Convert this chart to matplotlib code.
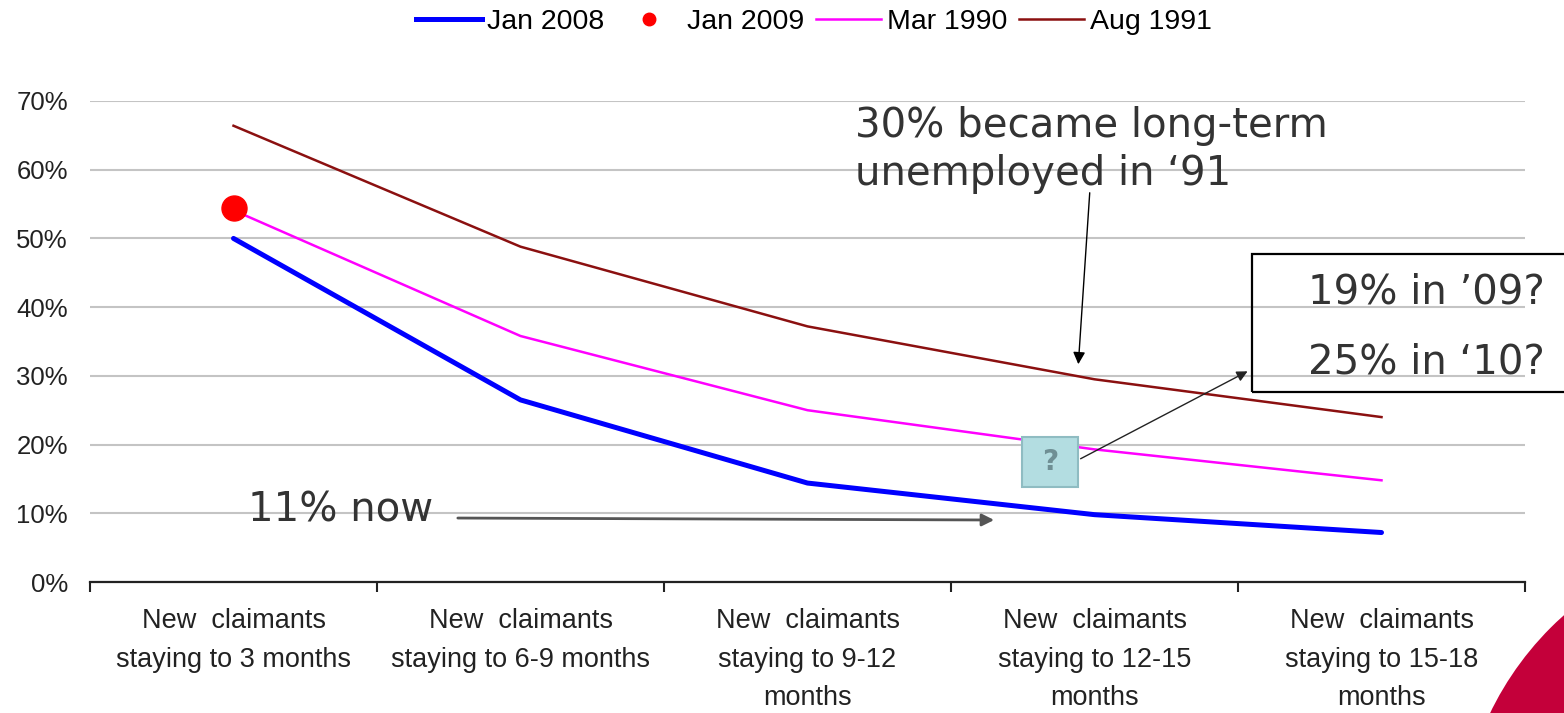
import matplotlib
matplotlib.use('Agg')
import matplotlib.pyplot as plt
from matplotlib.lines import Line2D
from matplotlib.patches import Rectangle, Ellipse

# data
categories = ['New  claimants\nstaying to 3 months',
              'New  claimants\nstaying to 6-9 months',
              'New  claimants\nstaying to 9-12\nmonths',
              'New  claimants\nstaying to 12-15\nmonths',
              'New  claimants\nstaying to 15-18\nmonths']
jan_2008 = [0.500, 0.265, 0.144, 0.098, 0.072]
jan_2009 = [0.545]
mar_1990 = [0.541, 0.358, 0.250, 0.193, 0.148]
aug_1991 = [0.664, 0.488, 0.372, 0.295, 0.240]
yticks = [0.0, 0.1, 0.2, 0.3, 0.4, 0.5, 0.6, 0.7]
ylabels = ['0%', '10%', '20%', '30%', '40%', '50%', '60%', '70%']

W, H = 1564, 713
fig = plt.figure(figsize=(W / 100, H / 100), dpi=100)
ax = fig.add_axes([90 / W, 131 / H, 1435 / W, 481 / H])

x = list(range(len(categories)))
ax.plot(x, jan_2008, color='#0000ff', lw=3.6, solid_capstyle='round', zorder=4)
ax.plot(x, mar_1990, color='#ff00ff', lw=1.8, zorder=3)
ax.plot(x, aug_1991, color='#8b1010', lw=1.8, zorder=3)
ax.plot(x[:len(jan_2009)], jan_2009, 'o', color='#ff0000', ms=18, zorder=5)

ax.set_xlim(-0.5, len(categories) - 0.5)
ax.set_ylim(0, 0.7)
ax.set_yticks(yticks)
ax.set_yticklabels(ylabels, fontsize=18.5, family='Liberation Sans', color='#222222')
ax.set_xticks(x)
ax.set_xticklabels(categories, fontsize=19.5, family='Liberation Sans',
                   color='#222222', linespacing=1.62)
ax.set_xticks([i - 0.5 for i in range(len(categories) + 1)], minor=True)
ax.tick_params(axis='x', which='major', length=0, pad=19)
ax.tick_params(axis='x', which='minor', length=7, width=1.5, direction='out', color='#222222')
ax.tick_params(axis='y', length=0, pad=16)
ax.grid(axis='y', color='#c4c4c4', lw=1.5)
ax.set_axisbelow(True)
for s in ['top', 'right', 'left']:
    ax.spines[s].set_visible(False)
ax.spines['bottom'].set_color('#222222')
ax.spines['bottom'].set_linewidth(1.6)

# legend
handles = [Line2D([], [], color='#0000ff', lw=3.6),
           Line2D([], [], ls='none', marker='o', color='#ff0000', ms=9),
           Line2D([], [], color='#ff00ff', lw=1.8),
           Line2D([], [], color='#8b1010', lw=1.8)]
fig.legend(handles, ['Jan 2008', 'Jan 2009', 'Mar 1990', 'Aug 1991'],
           loc='center', bbox_to_anchor=(814 / W, (H - 22) / H), ncol=4,
           frameon=False, prop={'family': 'Liberation Sans', 'size': 20.5},
           handlelength=2.3, handletextpad=0.2, columnspacing=0.4)

# annotations
txt = dict(fontsize=29, color='#333333', family='DejaVu Sans')
ax.text(2.166, 0.6287, '30% became long-term\nunemployed in \u201891', va='center',
        ha='left', linespacing=1.25, **txt)
ax.annotate('', xy=(2.943, 0.3129), xytext=(2.984, 0.5705),
            arrowprops=dict(arrowstyle='-|>', color='black', lw=1, mutation_scale=18))
ax.text(0.05, 0.1047, '11% now', va='center', ha='left', **txt)
ax.annotate('', xy=(2.660, 0.0902), xytext=(0.772, 0.0931),
            arrowprops=dict(arrowstyle='-|>', color='#555555', lw=2, mutation_scale=18))

# question box and arrow
ax.add_patch(Rectangle((2.747, 0.138), 0.195, 0.073, facecolor='#b3dde1',
                       edgecolor='#8fbcc2', lw=1.5, zorder=6))
ax.text(2.845, 0.1745, '?', ha='center', va='center', fontsize=20, fontweight='bold',
        color='#6f8f94', zorder=7)
ax.annotate('', xy=(3.542, 0.3085), xytext=(2.943, 0.1775),
            arrowprops=dict(arrowstyle='-|>', color='#222222', lw=1, mutation_scale=16),
            zorder=7)

# box at right
fig.add_artist(Rectangle((1252 / W, (H - 392) / H), 0.3, 138 / H, transform=fig.transFigure,
                         facecolor='none', edgecolor='black', lw=1.6))
fig.text(1308 / W, (H - 293) / H, '19% in \u201909?', va='center', ha='left', **txt)
fig.text(1308 / W, (H - 362) / H, '25% in \u201810?', va='center', ha='left', **txt)

# red corner shape
fig.add_artist(Ellipse((1772 / W, (H - 849) / H), 2 * 313 / W, 2 * 313 / H,
                       transform=fig.transFigure, facecolor='#c4003a', edgecolor='none'))

fig.savefig('out.png', dpi=100)
